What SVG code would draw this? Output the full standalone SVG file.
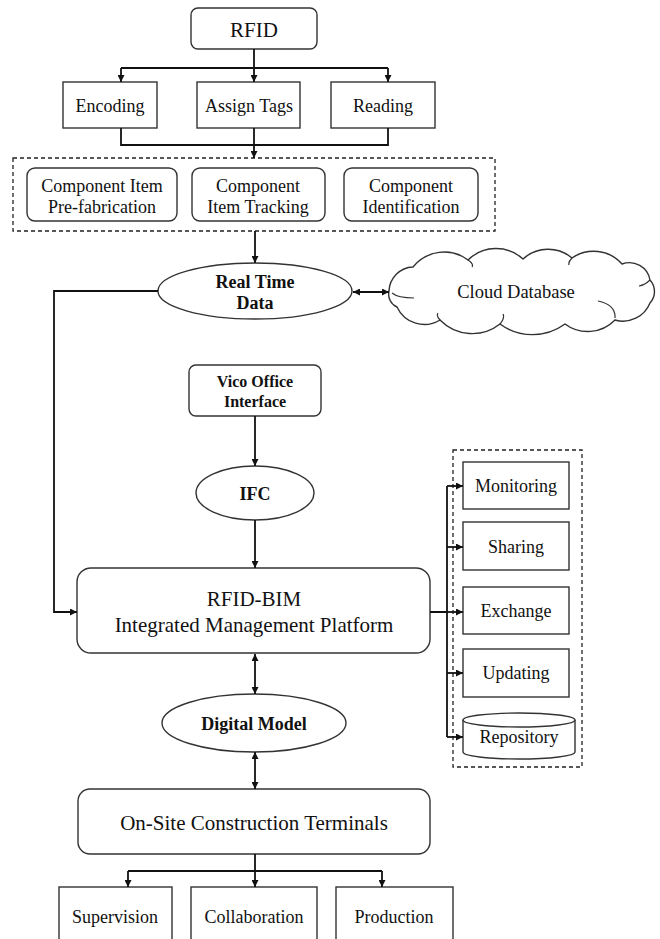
<svg xmlns="http://www.w3.org/2000/svg" width="660" height="939" viewBox="0 0 660 939">
<style>
.box{fill:#fff;stroke:#333;stroke-width:1.4}
.dash{fill:none;stroke:#222;stroke-width:1.3;stroke-dasharray:4 3}
.t{font-family:"Liberation Serif","Times New Roman",serif;fill:#111;text-anchor:middle}
.b{font-weight:bold}
.c{fill:none;stroke:#111;stroke-width:1.8}
.in{fill:none;stroke:#333;stroke-width:1.2}
</style>
<defs>
<marker id="ah" viewBox="0 0 10 10" refX="10" refY="5" markerWidth="7" markerHeight="7" markerUnits="userSpaceOnUse" orient="auto-start-reverse">
<path d="M0,0 L10,5 L0,10 z" fill="#111"/>
</marker>
</defs>
<rect width="660" height="939" fill="#fff"/>

<g id="rfid"><rect class="box" x="191" y="8" width="126" height="41" rx="7"/><text class="t" x="254" y="37" font-size="21">RFID</text></g>
<g id="encoding"><rect class="box" x="63" y="82" width="94" height="46"/><text class="t" x="110" y="112" font-size="18">Encoding</text></g>
<g id="assign"><rect class="box" x="197" y="82" width="103" height="46"/><text class="t" x="249" y="112" font-size="18">Assign Tags</text></g>
<g id="reading"><rect class="box" x="331" y="82" width="104" height="46"/><text class="t" x="383" y="112" font-size="18">Reading</text></g>

<g id="components">
<rect class="dash" x="13" y="158" width="482" height="73"/>
<g id="comp1"><rect class="box" x="27" y="168" width="150" height="53" rx="8"/><text class="t" x="102" y="192" font-size="18">Component Item</text><text class="t" x="102" y="213" font-size="18">Pre-fabrication</text></g>
<g id="comp2"><rect class="box" x="192" y="168" width="133" height="53" rx="8"/><text class="t" x="258" y="192" font-size="18">Component</text><text class="t" x="258" y="213" font-size="18">Item Tracking</text></g>
<g id="comp3"><rect class="box" x="344" y="168" width="134" height="53" rx="8"/><text class="t" x="411" y="192" font-size="18">Component</text><text class="t" x="411" y="213" font-size="18">Identification</text></g>
</g>

<g id="realtime"><ellipse class="box" cx="255" cy="291" rx="97" ry="28"/><text class="t b" x="255" y="288" font-size="18">Real Time</text><text class="t b" x="255" y="309" font-size="18">Data</text></g>

<g id="cloud">
<path class="box" d="M389,291 A25,25 0 0 1 413,267 A40,40 0 0 1 468,260 A40,40 0 0 1 523,259 A37,37 0 0 1 572,258 A38,38 0 0 1 622,264 A21,21 0 0 1 650,280 A17,17 0 0 1 650,303 A29,29 0 0 1 615,320 A38,38 0 0 1 565,324 A55,55 0 0 1 500,324 A45,45 0 0 1 440,320 A30,30 0 0 1 397,307 A14,14 0 0 1 389,291 Z"/>
<path class="in" d="M414,298 Q398,298 392,293 M468,260 Q474,264 472,267 M572,258 Q568,262 569,265 M650,280 Q645,285 639,286 M598,301 Q616,305 615,318 M500,324 Q505,318 503,314 M440,320 Q436,316 438,313"/>
<text class="t" x="516" y="298" font-size="18.5">Cloud Database</text>
</g>

<g id="vico"><rect class="box" x="189" y="365" width="132" height="51" rx="7"/><text class="t b" x="255" y="387" font-size="16">Vico Office</text><text class="t b" x="255" y="407" font-size="16">Interface</text></g>
<g id="ifc"><ellipse class="box" cx="255" cy="493" rx="59" ry="27"/><text class="t b" x="255" y="500" font-size="18">IFC</text></g>
<g id="platform"><rect class="box" x="77" y="568" width="353" height="85" rx="14"/><text class="t" x="254" y="606" font-size="21">RFID-BIM</text><text class="t" x="254" y="632" font-size="21">Integrated Management Platform</text></g>
<g id="digital"><ellipse class="box" cx="254" cy="723" rx="92" ry="29"/><text class="t b" x="254" y="730" font-size="18">Digital Model</text></g>
<g id="terminals"><rect class="box" x="78" y="789" width="352" height="65" rx="12"/><text class="t" x="254" y="830" font-size="21">On-Site Construction Terminals</text></g>
<g id="supervision"><rect class="box" x="59" y="887" width="113" height="70"/><text class="t" x="115" y="923" font-size="18">Supervision</text></g>
<g id="collaboration"><rect class="box" x="191" y="887" width="126" height="70"/><text class="t" x="254" y="923" font-size="18">Collaboration</text></g>
<g id="production"><rect class="box" x="336" y="887" width="117" height="70"/><text class="t" x="394" y="923" font-size="18">Production</text></g>

<g id="functions">
<rect class="dash" x="453" y="450" width="129" height="317"/>
<g id="monitoring"><rect class="box" x="463" y="462" width="106" height="47"/><text class="t" x="516" y="492" font-size="18">Monitoring</text></g>
<g id="sharing"><rect class="box" x="463" y="522" width="106" height="48"/><text class="t" x="516" y="553" font-size="18">Sharing</text></g>
<g id="exchange"><rect class="box" x="463" y="587" width="106" height="47"/><text class="t" x="516" y="617" font-size="18">Exchange</text></g>
<g id="updating"><rect class="box" x="463" y="649" width="106" height="48"/><text class="t" x="516" y="679" font-size="18">Updating</text></g>
<g id="repository"><path class="box" d="M463,720 A56,7 0 0 1 575,720 L575,752 A56,7 0 0 1 463,752 Z"/><path class="box" style="fill:none" d="M463,720 A56,7 0 0 0 575,720"/><text class="t" x="519" y="743" font-size="18">Repository</text></g>
</g>

<g id="connectors">
<path class="c" d="M254,49 V68 M121,68 H388"/>
<path class="c" marker-end="url(#ah)" d="M121,68 V82"/>
<path class="c" marker-end="url(#ah)" d="M254,68 V82"/>
<path class="c" marker-end="url(#ah)" d="M388,68 V82"/>
<path class="c" d="M121,128 V145 H388 V128"/>
<path class="c" marker-end="url(#ah)" d="M254,128 V158"/>
<path class="c" marker-end="url(#ah)" d="M255,231 V263"/>
<path class="c" marker-end="url(#ah)" marker-start="url(#ah)" d="M353,292 H389"/>
<path class="c" marker-end="url(#ah)" d="M158,291 H54 V612 H77"/>
<path class="c" marker-end="url(#ah)" d="M255,416 V466"/>
<path class="c" marker-end="url(#ah)" d="M255,520 V568"/>
<path class="c" marker-end="url(#ah)" marker-start="url(#ah)" d="M255,654 V694"/>
<path class="c" marker-end="url(#ah)" marker-start="url(#ah)" d="M255,752 V789"/>
<path class="c" d="M255,854 V871 M128,871 H382"/>
<path class="c" marker-end="url(#ah)" d="M128,871 V887"/>
<path class="c" marker-end="url(#ah)" d="M255,871 V887"/>
<path class="c" marker-end="url(#ah)" d="M382,871 V887"/>
<path class="c" d="M430,612 H447 M447,486 V737"/>
<path class="c" marker-end="url(#ah)" d="M447,486 H463"/>
<path class="c" marker-end="url(#ah)" d="M447,547 H463"/>
<path class="c" marker-end="url(#ah)" d="M447,612 H463"/>
<path class="c" marker-end="url(#ah)" d="M447,673 H463"/>
<path class="c" marker-end="url(#ah)" d="M447,737 H463"/>
</g>
</svg>
